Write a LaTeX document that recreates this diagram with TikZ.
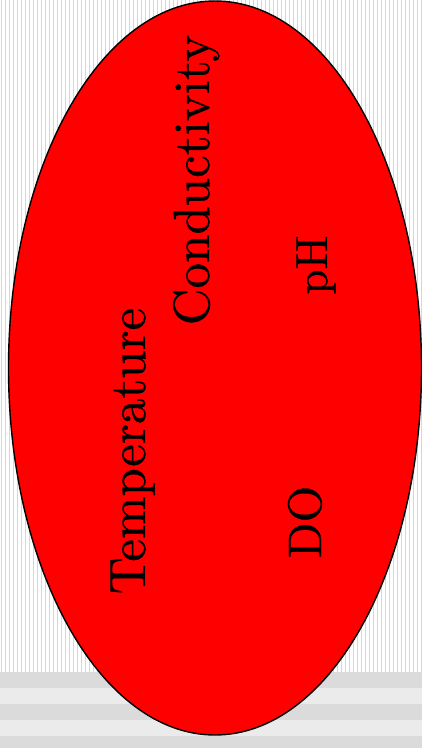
\documentclass[tikz,border=0pt]{standalone}
\usepackage{fontspec}
\newfontfamily\lblfont{lmroman10-regular}[Extension=.otf,FakeBold=0.6]
\begin{document}
\begin{tikzpicture}[x=1pt,y=-1pt,
  stripe/.style={draw=black!16,line width=1pt},
  darkband/.style={fill=black!14},
  lightband/.style={fill=black!8},
  blob/.style={draw=black,line width=1.4pt,fill=red},
  lbl/.style={rotate=90,anchor=base,inner sep=0pt,font=\lblfont\fontsize{51}{54}\selectfont},
  phsize/.style={font=\lblfont\fontsize{45}{48}\selectfont},
  dosize/.style={font=\lblfont\fontsize{47}{50}\selectfont}]
\useasboundingbox (0,0) rectangle (422,748);
\clip (0,0) rectangle (422,748);
% background stripes
\fill[white] (0,0) rectangle (422,672);
\foreach \x in {0,4,...,420} \draw[stripe] (\x+1.5,0) -- (\x+1.5,672);
% bottom bands
\fill[darkband] (0,672) rectangle (422,688);
\fill[lightband] (0,688) rectangle (422,704);
\fill[darkband] (0,704) rectangle (422,720);
\fill[lightband] (0,720) rectangle (422,736);
\fill[darkband] (0,736) rectangle (422,748);
% ellipse
\draw[blob] (215,368) ellipse [x radius=206.5, y radius=367];
% labels
\node[lbl] (temp) at (145,451) {Temperature};
\node[lbl] (cond) at (209,180) {Conductivity};
\node[lbl,phsize] (ph) at (327,265) {pH};
\node[lbl,dosize] (do) at (321,522) {DO};
\end{tikzpicture}
\end{document}
